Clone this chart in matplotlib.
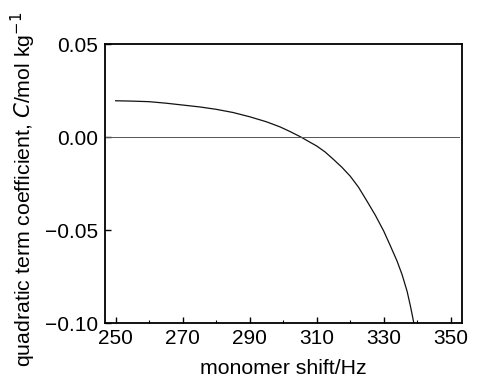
import matplotlib
matplotlib.use("Agg")
import matplotlib.pyplot as plt
from matplotlib.ticker import MultipleLocator

shift_hz = [250, 255, 260, 265, 270, 275, 280, 285, 290, 295, 299, 302, 305.3,
            308, 310, 312.5, 315, 317.5, 320, 322.5, 325, 327.5, 330, 332, 334,
            335.5, 337, 338, 339]
coef_C = [0.0195, 0.0193, 0.0190, 0.0182, 0.0172, 0.0162, 0.0149, 0.0132, 0.0109,
          0.0082, 0.0055, 0.0030, 0.0000, -0.0028, -0.0048, -0.0080, -0.0120,
          -0.0162, -0.0210, -0.0270, -0.0344, -0.0420, -0.0505, -0.0585, -0.0667,
          -0.0740, -0.0830, -0.0910, -0.1000]

zero_line = 0.0
xticks = [250, 270, 290, 310, 330, 350]
yticks = [0.05, 0.00, -0.05, -0.10]
ytick_labels = ["0.05", "0.00", "\u22120.05", "\u22120.10"]

plt.rcParams['font.family'] = ['Liberation Sans', 'DejaVu Sans']

fig = plt.figure(figsize=(4.79, 3.81), dpi=100)
ax = fig.add_axes([0.219, 0.152, 0.745, 0.7325])

ax.plot(shift_hz, coef_C, color='#111111', linewidth=0.9)
ax.plot([246.8, 352.5], [zero_line, zero_line], color='#555555', linewidth=0.7)

ax.set_xlim(246.8, 353.3)
ax.set_ylim(-0.10, 0.05)
ax.set_xticks(xticks)
ax.set_xticklabels([str(t) for t in xticks])
ax.xaxis.set_minor_locator(MultipleLocator(10))
ax.set_yticks(yticks)
ax.set_yticklabels(ytick_labels)

ax.tick_params(axis='both', which='major', direction='in', length=4, width=1,
               labelsize=15, colors='black')
ax.tick_params(axis='x', which='major', pad=4)
ax.tick_params(axis='y', which='major', pad=5)
ax.tick_params(axis='x', which='minor', direction='in', length=2.5, width=0.8)
for s in ax.spines.values():
    s.set_linewidth(1.3)

ax.set_xlabel('monomer shift/Hz', fontsize=15.3, labelpad=8)
ax.set_ylabel('quadratic term coefficient, $\\it{C}$/mol kg$^{-1}$', fontsize=15.3, labelpad=5)
ax.yaxis.label.set_y(0.478)

fig.savefig('out.png', dpi=100)
